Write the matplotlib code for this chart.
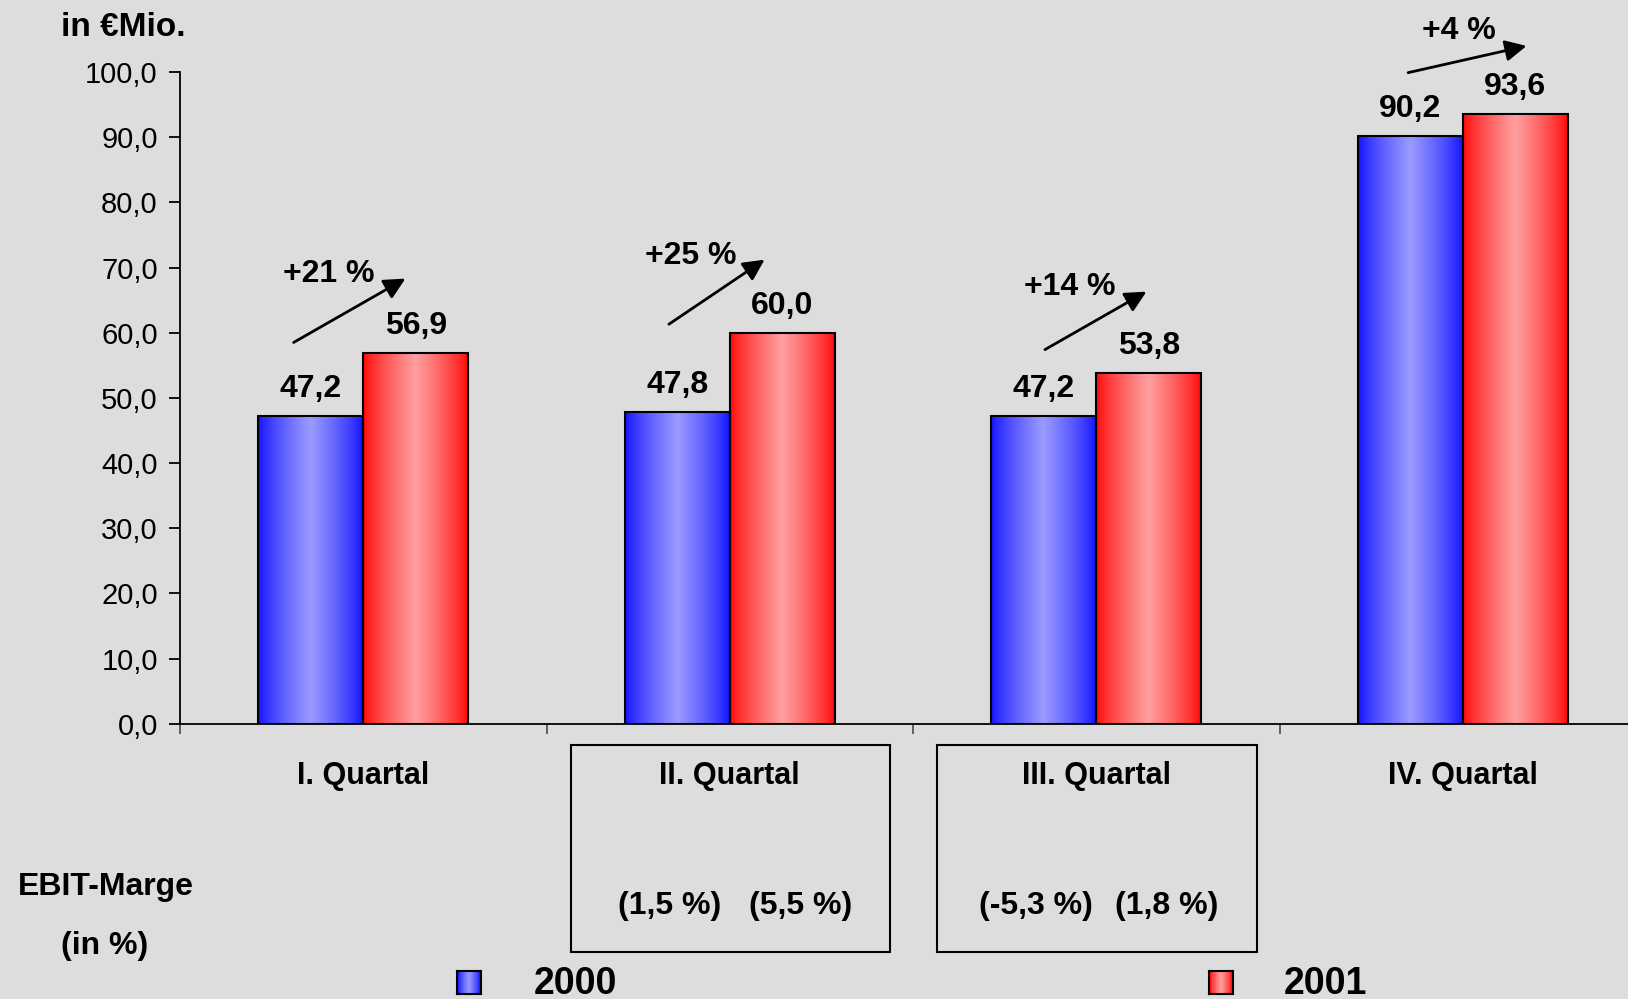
import numpy as np
import matplotlib
matplotlib.use("Agg")
import matplotlib.pyplot as plt

# --- data ---
QUARTERS = ["I. Quartal", "II. Quartal", "III. Quartal", "IV. Quartal"]
EBIT_2000 = [47.2, 47.8, 47.2, 90.2]
EBIT_2001 = [56.9, 60.0, 53.8, 93.6]
GROWTH = ["+21 %", "+25 %", "+14 %", "+4 %"]
MARGIN_2000 = [None, "(1,5 %)", "(-5,3 %)", None]
MARGIN_2001 = [None, "(5,5 %)", "(1,8 %)", None]
YEARS = ["2000", "2001"]

# --- style ---
BG = "#dddddd"
BLUE_DARK, BLUE_LIGHT = np.array([20, 20, 255]), np.array([155, 155, 255])
RED_DARK, RED_LIGHT = np.array([255, 10, 10]), np.array([255, 160, 160])
FONT = "Liberation Sans"
plt.rcParams["font.family"] = [FONT, "DejaVu Sans"]

# arrow layout (start, end, label pos) in data units, one per quarter
ARROWS = [
    ((-0.19, 58.5), (0.115, 68.3), (-0.095, 69.0)),
    ((0.834, 61.3), (1.095, 71.2), (0.894, 71.8)),
    ((1.860, 57.4), (2.137, 66.3), (1.928, 67.0)),
    ((2.851, 99.9), (3.174, 104.0), (2.990, 106.3)),
]


def gradient(dark, light, n=64):
    t = np.linspace(0, 1, n)
    s = (1 - np.abs(2 * t - 1)) ** 0.8
    cols = dark[None, :] + (light - dark)[None, :] * s[:, None]
    return (cols / 255.0)[None, :, :]


def fill_gradient(ax, bars, grad):
    for p in bars.patches:
        x0, y0 = p.get_x(), p.get_y()
        ax.imshow(grad, extent=(x0, x0 + p.get_width(), y0, y0 + p.get_height()),
                  aspect="auto", interpolation="bilinear", zorder=2)


W, H = 1628, 999
fig = plt.figure(figsize=(W / 100, H / 100), dpi=100)
fig.patch.set_facecolor(BG)

ax_left, ax_right = 180, 1646
ax_top, ax_bottom = 72, 723.7
ax = fig.add_axes([ax_left / W, 1 - ax_bottom / H,
                   (ax_right - ax_left) / W, (ax_bottom - ax_top) / H])
ax.set_facecolor(BG)

x = np.arange(len(QUARTERS))
bw = 0.286
b1 = ax.bar(x - bw / 2, EBIT_2000, bw, facecolor="none", edgecolor="black",
            linewidth=1.5, zorder=3)
b2 = ax.bar(x + bw / 2, EBIT_2001, bw, facecolor="none", edgecolor="black",
            linewidth=1.5, zorder=3)
fill_gradient(ax, b1, gradient(BLUE_DARK, BLUE_LIGHT))
fill_gradient(ax, b2, gradient(RED_DARK, RED_LIGHT))

ax.set_xlim(-0.5, 3.5)
ax.set_ylim(0, 100)

for side in ("top", "right"):
    ax.spines[side].set_visible(False)
ax.spines["left"].set_linewidth(1.3)
ax.spines["bottom"].set_linewidth(1.3)
ax.set_yticks(np.arange(0, 101, 10))
ax.set_yticklabels([f"{v:.1f}".replace(".", ",") for v in np.arange(0, 101, 10)],
                   fontsize=21)
ax.tick_params(axis="y", length=8, width=1.3, pad=8)
ax.set_xticks([-0.5, 0.5, 1.5, 2.5, 3.5])
ax.set_xticklabels([])
ax.tick_params(axis="x", length=7, width=1.3, color="#555555")

# value labels
for bars, vals in ((b1, EBIT_2000), (b2, EBIT_2001)):
    for p, v in zip(bars.patches, vals):
        ax.annotate(f"{v:.1f}".replace(".", ","),
                    (p.get_x() + p.get_width() / 2, v), xytext=(0, 8.5),
                    textcoords="offset points", ha="center", va="bottom",
                    fontsize=23, fontweight="bold", annotation_clip=False)

# growth arrows
for (start, end, lab), g in zip(ARROWS, GROWTH):
    ax.annotate("", xy=end, xytext=start, annotation_clip=False,
                arrowprops=dict(arrowstyle="-|>", color="black", lw=2,
                                mutation_scale=32, shrinkA=0, shrinkB=0))
    ax.text(lab[0], lab[1], g, ha="center", va="center", fontsize=23,
            fontweight="bold", clip_on=False)

# category labels
for i, q in enumerate(QUARTERS):
    ax.text(i, -8.0, q, ha="center", va="center", fontsize=22,
            fontweight="bold", clip_on=False)

# EBIT margin boxes
for i, (m0, m1) in enumerate(zip(MARGIN_2000, MARGIN_2001)):
    if m0 is None:
        continue
    ax.add_patch(plt.Rectangle((i - 0.434, -35.1), 0.872, 31.83,
                               facecolor="none", edgecolor="black",
                               linewidth=1.5, clip_on=False))
    ax.text(i - 0.165, -27.95, m0, ha="center", va="center", fontsize=23,
            fontweight="bold", clip_on=False)
    ax.text(i + 0.193, -27.95, m1, ha="center", va="center", fontsize=23,
            fontweight="bold", clip_on=False)

fig.text(123 / W, 1 - 27 / H, "in €Mio.", ha="center", va="center",
         fontsize=24, fontweight="bold")
fig.text(106 / W, 1 - 886.5 / H, "EBIT-Marge", ha="center", va="center",
         fontsize=23, fontweight="bold")
fig.text(105 / W, 1 - 946 / H, "(in %)", ha="center", va="center",
         fontsize=23, fontweight="bold")

# legend with gradient swatches
for (sx, tx), year, (dk, lt) in zip(((457, 575), (1209, 1325)), YEARS,
                                    ((BLUE_DARK, BLUE_LIGHT), (RED_DARK, RED_LIGHT))):
    sw = fig.add_axes([sx / W, 1 - 994 / H, 24 / W, 23 / H])
    sw.imshow(gradient(dk, lt, 16), aspect="auto", interpolation="bilinear")
    sw.set_xticks([]); sw.set_yticks([])
    for s in sw.spines.values():
        s.set_linewidth(1.5)
    fig.text(tx / W, 1 - 984 / H, year, ha="center", va="center",
             fontsize=27, fontweight="bold")

fig.savefig("out.png", dpi=100, facecolor=BG)
